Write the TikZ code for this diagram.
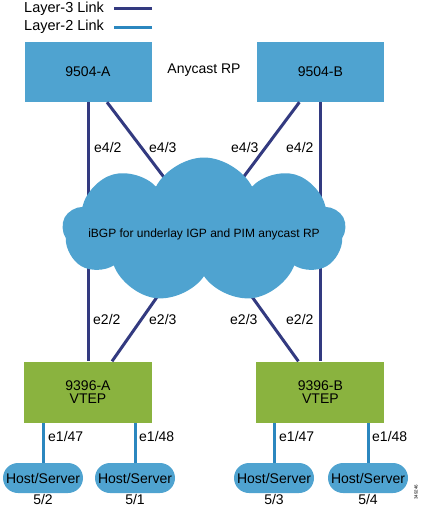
\documentclass[tikz,border=0pt]{standalone}
\usepackage{fontspec}
\setmainfont{Liberation Sans}
\usepackage{tikz}
\usetikzlibrary{positioning,shapes,shapes.misc,shapes.symbols}
\definecolor{nxblue}{HTML}{4FA3D0}
\definecolor{nxgreen}{HTML}{8AB33F}
\definecolor{lthree}{HTML}{333A80}
\definecolor{ltwo}{HTML}{2B87BF}
\tikzstyle{spine}=[rectangle, fill=nxblue, minimum width=127pt, minimum height=60pt,
        text centered, font=\fontsize{14}{14}\selectfont]
\tikzstyle{leaf}=[rectangle, fill=nxgreen, minimum width=128pt, minimum height=61pt,
        text centered, align=center, font=\fontsize{14}{13}\selectfont]
\tikzstyle{host}=[rounded rectangle, fill=nxblue, minimum width=82pt, minimum height=30pt,
        inner xsep=1pt, font=\fontsize{14}{14}\selectfont]
\tikzstyle{port}=[inner sep=0pt, anchor=west, font=\fontsize{14}{14}\selectfont]
\tikzstyle{lthreeline}=[-, line width=3pt, draw=lthree]
\tikzstyle{ltwoline}=[-, line width=3pt, draw=ltwo]

\begin{document}
\begin{tikzpicture}[x=1pt, y=-1pt, node distance=105pt]
    \useasboundingbox (0,0) rectangle (423,509);
    % legend
    \node (lgthree) [anchor=west, inner sep=0pt, font=\fontsize{14.5}{14}\selectfont] at (24,8.5) {Layer-3 Link};
    \node (lgtwo) [anchor=west, inner sep=0pt, font=\fontsize{14.5}{14}\selectfont] at (24,26.5) {Layer-2 Link};
    \coordinate (lgthreeend) at (152,8);
    \coordinate (lgtwoend) at (152,27);
    \draw[lthreeline] (lgthreeend) -- ++(-38,0);
    \draw[ltwoline] (lgtwoend) -- ++(-38,0);

    % spines and leafs
    \node (SpineA) [spine] at (88,72) {9504-A};
    \node (SpineB) [spine, right=of SpineA] {9504-B};
    \node (RP) [font=\fontsize{14}{14}\selectfont] at (204,70) {Anycast RP};
    \node (LeafA) [leaf] at (88,392) {9396-A\\VTEP};
    \node (LeafB) [leaf, right=104pt of LeafA] {9396-B\\VTEP};
    \coordinate (core) at (204,230);

    % hosts
    \node (HostA1) [host] at (43,478) {Host/Server};
    \node (HostA2) [host] at (135,478) {Host/Server};
    \node (HostB1) [host] at (274,478) {Host/Server};
    \node (HostB2) [host] at (368,478) {Host/Server};
    \node (PortA1) [below=-2pt of HostA1, font=\fontsize{14}{14}\selectfont] {5/2};
    \node (PortA2) [below=-2pt of HostA2, font=\fontsize{14}{14}\selectfont] {5/1};
    \node (PortB1) [below=-2pt of HostB1, font=\fontsize{14}{14}\selectfont] {5/3};
    \node (PortB2) [below=-2pt of HostB2, font=\fontsize{14}{14}\selectfont] {5/4};

    % layer-3 links
    \draw[lthreeline] (SpineA.south) -- (LeafA.north);
    \draw[lthreeline] (SpineB.south) -- (LeafB.north);
    \draw[lthreeline] ([xshift=19pt]SpineA.south) -- (core);
    \draw[lthreeline] ([xshift=-21pt]SpineB.south) -- (core);
    \draw[lthreeline] ([xshift=24pt]LeafA.north) -- (core);
    \draw[lthreeline] ([xshift=-22pt]LeafB.north) -- (core);

    % layer-2 links
    \draw[ltwoline] (HostA1.north) -- (HostA1.north |- LeafA.south);
    \draw[ltwoline] (HostA2.north) -- (HostA2.north |- LeafA.south);
    \draw[ltwoline] (HostB1.north) -- (HostB1.north |- LeafB.south);
    \draw[ltwoline] (HostB2.north) -- (HostB2.north |- LeafB.south);

    % core cloud
    \node (Core) [cloud, cloud puffs=9, cloud puff arc=125, cloud ignores aspect, fill=nxblue,
        minimum width=283pt, minimum height=145pt, inner sep=0pt] at (core) {};
    \node (CoreText) [font=\fontsize{12}{12}\selectfont] at (204,234) {iBGP for underlay IGP and PIM anycast RP};

    % port labels
    \node (eAtwo) [port] at (94,147) {e4/2};
    \node (eAthree) [port] at (149,147) {e4/3};
    \node (eBthree) [port] at (231,147) {e4/3};
    \node (eBtwo) [port] at (286,147) {e4/2};
    \node (dAtwo) [port] at (93,319) {e2/2};
    \node (dAthree) [port] at (149,319) {e2/3};
    \node (dBthree) [port] at (230,319) {e2/3};
    \node (dBtwo) [port] at (286,319) {e2/2};
    \node (fAone) [port] at (48,436) {e1/47};
    \node (fAtwo) [port] at (139,436) {e1/48};
    \node (fBone) [port] at (279,436) {e1/47};
    \node (fBtwo) [port] at (372,436) {e1/48};

    \node (figid) [rotate=90, inner sep=0pt, font=\fontsize{4.5}{4.5}\selectfont] at (416,492) {349246};
\end{tikzpicture}
\end{document}
